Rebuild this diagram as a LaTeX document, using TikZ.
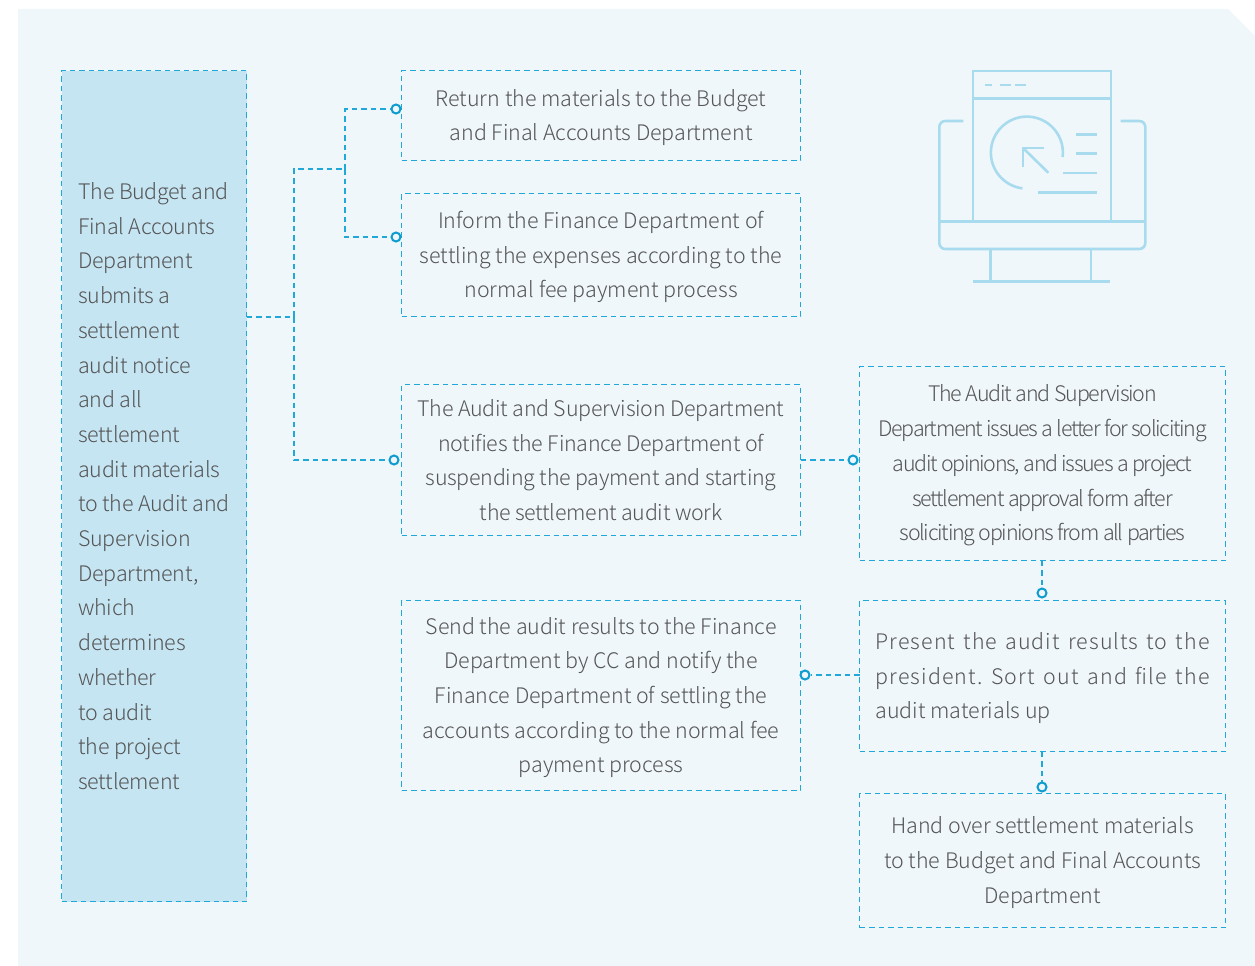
\documentclass[tikz,border=0pt]{standalone}
\usepackage{fontspec}
\setmainfont{Noto Sans CJK SC}[UprightFont=* Light]
\definecolor{bgc}{HTML}{EFF7FB}
\definecolor{fillc}{HTML}{C6E5F3}
\definecolor{linec}{HTML}{1FA8D8}
\definecolor{dotc}{HTML}{0F9CCF}
\definecolor{iconc}{HTML}{A9DBEE}
\definecolor{txtc}{HTML}{555555}
\newcommand{\tightl}[2]{{\addfontfeatures{LetterSpace=#1}#2}}
\newcommand{\wideline}[1]{\makebox[334pt][s]{\addfontfeatures{LetterSpace=5}#1}}
\newcommand{\topstrut}{\rule{0pt}{21pt}}
\tikzset{
  x=1pt,y=-1pt,
  dashline/.style={draw=linec,line width=1.4pt,dash pattern=on 5.5pt off 4pt},
  flowbox/.style={dashline,inner sep=0pt,outer sep=0pt,anchor=north west,align=center,text=txtc,
    font=\frenchspacing\fontsize{21.4}{34.7}\selectfont},
  tightbox/.style={flowbox,font=\frenchspacing\fontsize{21.4}{34.7}\selectfont\addfontfeatures{LetterSpace=#1}},
  dotnode/.style={circle,draw=dotc,fill=bgc,line width=2pt,minimum size=9pt,inner sep=0pt},
  iconline/.style={draw=iconc,line width=2.6pt}
}
\begin{document}
\begin{tikzpicture}
\useasboundingbox (0,0) rectangle (1255,966);
\fill[bgc] (18,9) -- (1228,9) -- (1255,36) -- (1255,966) -- (18,966) -- cycle;

\node[tightbox=-1,align=left,fill=fillc,minimum width=185pt,minimum height=831pt] (src) at (61.6,70.6)
 {The Budget and\\Final Accounts\\Department\\submits a\\settlement\\audit notice\\and all\\settlement\\audit materials\\to the Audit and\\Supervision\\Department,\\which\\determines\\whether\\to audit\\the project\\settlement};

\node[flowbox,minimum width=399pt,minimum height=90pt] (ret) at (401.6,70.6)
 {\topstrut Return the materials to the Budget\\and Final Accounts Department};
\node[flowbox,minimum width=399pt,minimum height=123pt] (inf) at (401.6,193.6)
 {\topstrut Inform the Finance Department of\\settling the expenses according to the\\normal fee payment process};
\node[tightbox=-1.2,minimum width=399pt,minimum height=151pt] (ntf) at (401.6,384.6)
 {The Audit and Supervision Department\\notifies the Finance Department of\\suspending the payment and starting\\the settlement audit work};
\node[flowbox,minimum width=399pt,minimum height=190pt] (snd) at (401.6,600.6)
 {\topstrut Send the audit results to the Finance\\Department by CC and notify the\\Finance Department of settling the\\accounts according to the normal fee\\payment process};
\node[flowbox,minimum width=366pt,minimum height=194pt] (iss) at (859.6,366.6)
 {\topstrut\tightl{-5.5}{The Audit and Supervision}\\\tightl{-6.2}{Department issues a letter for soliciting}\\\tightl{-6.2}{audit opinions, and issues a project}\\\tightl{-6}{settlement approval form after}\\\tightl{-6}{soliciting opinions from all parties}};
\node[flowbox,align=left,minimum width=366pt,minimum height=151pt] (prs) at (859.6,600.6)
 {\topstrut\wideline{Present the audit results to the}\\\wideline{president. Sort out and file the}\\audit materials up};
\node[flowbox,minimum width=366pt,minimum height=134pt] (hnd) at (859.6,793.6)
 {\topstrut Hand over settlement materials\\to the Budget and Final Accounts\\Department};

\node[dotnode] (d1) at (396,109) {};
\node[dotnode] (d2) at (396,237) {};
\node[dotnode] (d3) at (394,460) {};
\node[dotnode] (d4) at (853,460) {};
\node[dotnode] (d5) at (1042,593) {};
\node[dotnode] (d6) at (805,675) {};
\node[dotnode] (d7) at (1042,787) {};

\coordinate (t1) at (294,317);
\coordinate (t2) at (294,169);
\coordinate (t3) at (345,169);

\draw[dashline] (src.east |- t1) -- (t1) -- (t2) -- (t3);
\draw[dashline] (t1) |- (d3.west);
\draw[dashline] (t3) |- (d1.west);
\draw[dashline] (t3) |- (d2.west);
\draw[dashline] (ntf.east |- d4) -- (d4.west);
\draw[dashline] (iss.south -| d5) -- (d5.north);
\draw[dashline] (prs.west |- d6) -- (d6.east);
\draw[dashline] (prs.south -| d7) -- (d7.north);

% icon
\draw[iconline] (973,221.7) -- (973,71) -- (1111,71) -- (1111,221.7);
\draw[iconline] (973,98.3) -- (1111,98.3);
\draw[iconline] (985.3,85) -- (992,85) (1000,85) -- (1010.7,85) (1015,85) -- (1026,85);
\draw[iconline,rounded corners=6pt] (963.3,121) -- (939.3,121) -- (939.3,249) -- (1145.3,249) -- (1145.3,121) -- (1120.7,121);
\draw[iconline] (939.3,221.7) -- (1145.3,221.7);
\draw[iconline] (990.7,248) -- (990.7,281.7) (1091,248) -- (1091,281.7);
\draw[iconline] (973.3,281.7) -- (1110,281.7);
\draw[iconline] (1062.6,157) arc[start angle=7,end angle=-263,radius=36];
\draw[iconline] (1048.3,172.7) -- (1023.3,148.3);
\draw[iconline] (1044,148) -- (1023,148) -- (1023,167.3);
\draw[iconline] (1076,134.3) -- (1096.7,134.3) (1076,153.7) -- (1096.7,153.7)
  (1063.3,173) -- (1096.7,173) (1038.3,192.3) -- (1096.7,192.3);
\end{tikzpicture}
\end{document}
